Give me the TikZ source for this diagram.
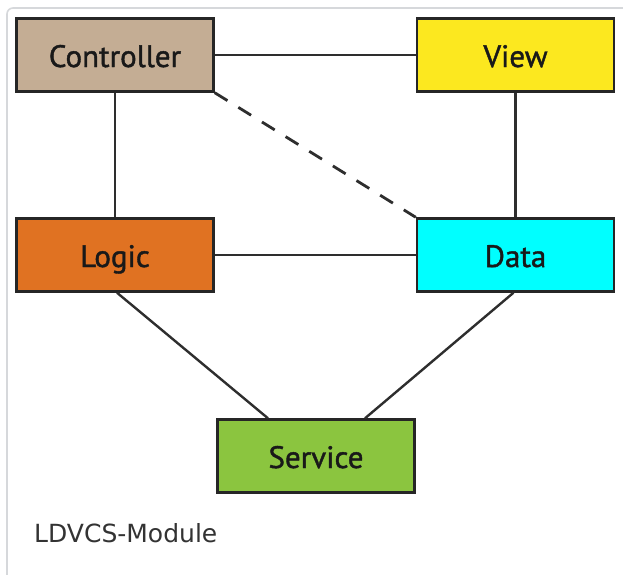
\documentclass[tikz,border=0pt]{standalone}
\usepackage{fontspec}
\setmainfont{DejaVu Sans}
\newfontfamily\boxfont[FakeBold=1.3]{PT Sans}
\begin{document}
\begin{tikzpicture}[x=1pt,y=-1pt,
  module/.style={draw=black!85,line width=2.4pt,minimum width=197pt,minimum height=73pt,
    inner sep=0pt,text height=24pt,text depth=0pt,
    font=\boxfont\fontsize{31}{34}\selectfont,text=black!90},
  link/.style={draw=black!82,line width=2.4pt},
  weak/.style={link,line width=2.8pt,dash pattern=on 15pt off 12.8pt}]
\definecolor{ctrlc}{HTML}{C4AD94}
\definecolor{viewc}{HTML}{FCE81F}
\definecolor{logicc}{HTML}{E07222}
\definecolor{datac}{HTML}{00FFFF}
\definecolor{servc}{HTML}{8BC53F}
\definecolor{framec}{HTML}{D6D8DB}
\definecolor{captc}{HTML}{333333}
\useasboundingbox (0,0) rectangle (623,574);
% thumbnail frame, open to the right and bottom
\draw[framec,line width=1.6pt,rounded corners=6pt] (7,600) -- (7,8) -- (640,8);
% modules
\node[module,fill=ctrlc]  (ctrl)  at (115,55)   {Controller};
\node[module,fill=viewc]  (view)  at (515.5,55) {View};
\node[module,fill=logicc] (logic) at (115,255)  {Logic};
\node[module,fill=datac]  (data)  at (515.5,255){Data};
\node[module,fill=servc]  (serv)  at (316,456)  {Service};
% connections
\draw[link] (ctrl.east) -- (view.west);
\draw[link] (ctrl.south) -- (logic.north);
\draw[link] (view.south) -- (data.north);
\draw[link] (logic.east) -- (data.west);
\draw[weak] (ctrl.south east) -- (data.north west);
\draw[link] ([xshift=2pt]logic.south) -- ([xshift=-48pt]serv.north);
\draw[link] ([xshift=-2pt]data.south) -- ([xshift=49pt]serv.north);
% caption
\node[anchor=base west,inner sep=0pt,text=captc,font=\fontsize{25}{30}\selectfont] (capt) at (34,542) {LDVCS-Module};
\end{tikzpicture}
\end{document}
